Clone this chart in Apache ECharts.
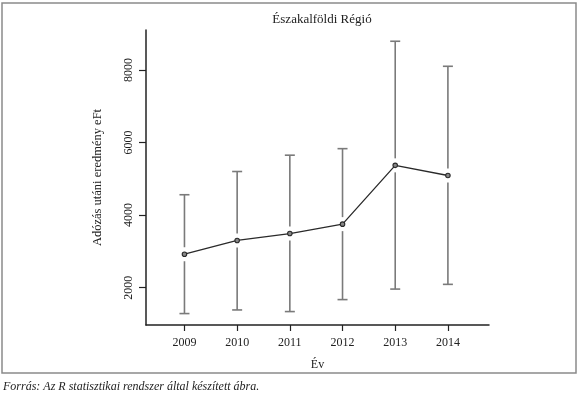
<!DOCTYPE html>
<html>
<head>
<meta charset="utf-8">
<script src="https://cdn.jsdelivr.net/npm/echarts@6/dist/echarts.min.js"></script>
<style>
  html, body { margin: 0; padding: 0; background: #fff; }
  #main { width: 580px; height: 402px; }
</style>
</head>
<body>
<div id="main"></div>
<script>
// adatok az ábráról leolvasva
var years = [2009, 2010, 2011, 2012, 2013, 2014];
var means = [2920, 3300, 3490, 3750, 5370, 5090];
var upper = [4560, 5200, 5650, 5830, 8790, 8100];
var lower = [1285, 1385, 1340, 1670, 1960, 2090];
var yTicks = [2000, 4000, 6000, 8000];

var serif = '"Liberation Serif", "DejaVu Serif", serif';

var barData = [];
for (var i = 0; i < years.length; i++) {
    barData.push([years[i], lower[i], means[i], upper[i]]);
}
var lineData = [];
for (var i = 0; i < years.length; i++) {
    lineData.push([years[i], means[i]]);
}

var myChart = echarts.init(document.getElementById('main'));

option = {
    backgroundColor: '#fff',
    animation: false,
    title: {
        text: 'Északalföldi Régió',
        left: 317,
        top: 8,
        textAlign: 'center',
        textStyle: { fontFamily: serif, fontSize: 13, fontWeight: 'normal', color: '#222' }
    },
    graphic: [
        {
            type: 'rect',
            shape: { x: 2, y: 3, width: 574, height: 370 },
            style: { fill: null, stroke: '#8a8a8a', lineWidth: 1.5 }
        },
        {
            type: 'text',
            left: 3,
            top: 381,
            style: {
                text: 'Forrás: Az R statisztikai rendszer által készített ábra.',
                fontFamily: serif, fontStyle: 'italic', fontSize: 12, fill: '#222'
            }
        }
    ],
    grid: { left: 146, right: 91, top: 30, bottom: 77 },
    xAxis: {
        type: 'value',
        min: 2008.27,
        max: 2014.78,
        name: 'Év',
        nameLocation: 'middle',
        nameGap: 34,
        nameTextStyle: { fontFamily: serif, fontSize: 12, color: '#222' },
        splitLine: { show: false },
        axisLine: { show: true, lineStyle: { color: '#222', width: 1.5 } },
        axisTick: { show: true, length: 6, customValues: years, lineStyle: { color: '#222', width: 1.2 } },
        axisLabel: {
            customValues: years,
            margin: 12,
            fontFamily: serif, fontSize: 12, color: '#222',
            formatter: function (v) { return String(v); }
        }
    },
    yAxis: {
        type: 'value',
        min: 970,
        max: 9100,
        name: 'Adózás utáni eredmény eFt',
        nameLocation: 'middle',
        nameRotate: 90,
        nameGap: 42,
        nameTextStyle: { fontFamily: serif, fontSize: 12.5, color: '#222' },
        splitLine: { show: false },
        axisLine: { show: true, lineStyle: { color: '#222', width: 1.5 } },
        axisTick: { show: true, length: 7, customValues: yTicks, lineStyle: { color: '#222', width: 1.2 } },
        axisLabel: {
            customValues: yTicks,
            rotate: 90,
            margin: 11,
            fontFamily: serif, fontSize: 12, color: '#222',
            formatter: function (v) { return String(v); }
        }
    },
    series: [
        {
            name: 'hiba',
            type: 'custom',
            z: 1,
            data: barData,
            renderItem: function (params, api) {
                var x = api.value(0);
                var lo = api.coord([x, api.value(1)]);
                var mid = api.coord([x, api.value(2)]);
                var hi = api.coord([x, api.value(3)]);
                var cap = 5, gap = 7;
                var st = { stroke: '#7a7a7a', lineWidth: 1.6 };
                return {
                    type: 'group',
                    children: [
                        { type: 'line', shape: { x1: hi[0], y1: hi[1], x2: mid[0], y2: mid[1] - gap }, style: st },
                        { type: 'line', shape: { x1: mid[0], y1: mid[1] + gap, x2: lo[0], y2: lo[1] }, style: st },
                        { type: 'line', shape: { x1: hi[0] - cap, y1: hi[1], x2: hi[0] + cap, y2: hi[1] }, style: st },
                        { type: 'line', shape: { x1: lo[0] - cap, y1: lo[1], x2: lo[0] + cap, y2: lo[1] }, style: st }
                    ]
                };
            }
        },
        {
            name: 'átlag',
            type: 'line',
            z: 3,
            data: lineData,
            symbol: 'circle',
            symbolSize: 4.5,
            lineStyle: { color: '#2a2a2a', width: 1.3 },
            itemStyle: { color: '#888', borderColor: '#2a2a2a', borderWidth: 1.1 }
        }
    ]
};

myChart.setOption(option);
</script>
</body>
</html>
